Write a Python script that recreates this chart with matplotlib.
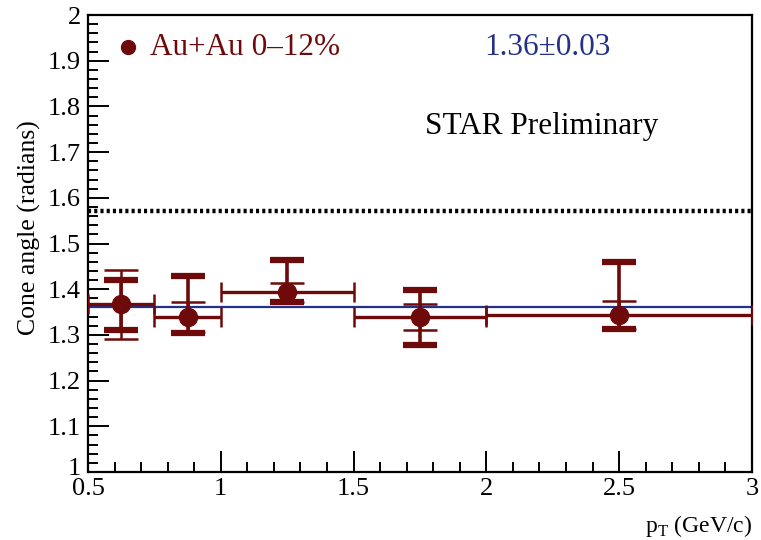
import matplotlib.pyplot as plt
import matplotlib.transforms as mtransforms
import numpy as np

# cone angle vs pT, Au+Au 0-12%
pt = np.array([0.625, 0.875, 1.25, 1.75, 2.5])
pt_halfwidth = np.array([0.125, 0.125, 0.25, 0.25, 0.5])
cone = np.array([1.367, 1.339, 1.393, 1.339, 1.344])
stat_err = np.array([0.076, 0.032, 0.02, 0.029, 0.031])
sys_lo = np.array([0.056, 0.035, 0.022, 0.06, 0.03])
sys_hi = np.array([0.054, 0.09, 0.072, 0.06, 0.116])
fit_value = 1.36
fit_error = 0.03
half_pi = np.pi / 2

red = '#6e0a0a'
blue = '#23318a'

plt.rcParams['font.family'] = ['Liberation Serif', 'DejaVu Serif']

fig = plt.figure(figsize=(7.61, 5.40), dpi=100)
ax = fig.add_axes([0.1156, 0.1259, 0.8724, 0.8463])

ax.axhline(half_pi, color='black', lw=3.2, ls=(0, (0.7, 0.7)), zorder=1)
ax.axhline(fit_value, color=blue, lw=1.6, zorder=2)

# bin widths
ax.errorbar(pt, cone, xerr=pt_halfwidth, fmt='none', ecolor=red,
            elinewidth=2.4, capsize=7, capthick=1.8, zorder=3)
# statistical
ax.errorbar(pt, cone, yerr=stat_err, fmt='none', ecolor=red,
            elinewidth=1.8, capsize=12, capthick=1.8, zorder=3)
# systematic
ax.errorbar(pt, cone, yerr=[sys_lo, sys_hi], fmt='none', ecolor=red,
            elinewidth=2.6, capsize=12, capthick=4.5, zorder=3)
ax.plot(pt, cone, 'o', color=red, ms=13, zorder=4)

ax.set_xlim(0.5, 3)
ax.set_ylim(1, 2)
ax.set_xticks(np.arange(0.5, 3.01, 0.5))
ax.set_xticklabels(['0.5', '1', '1.5', '2', '2.5', '3'])
ax.set_xticks(np.arange(0.5, 3.01, 0.1), minor=True)
ax.set_yticks(np.arange(1, 2.01, 0.1))
ax.set_yticklabels(['1', '1.1', '1.2', '1.3', '1.4', '1.5', '1.6', '1.7', '1.8', '1.9', '2'])
ax.set_yticks(np.arange(1, 2.001, 0.02), minor=True)
ax.tick_params(which='both', direction='in', top=False, right=False,
               labelsize=19, width=1.4)
ax.tick_params(which='major', length=15)
ax.tick_params(which='minor', length=7)
ax.tick_params(axis='x', pad=4)
ax.tick_params(axis='y', pad=5)
# nudge the bottom y label up a little so it clears the first x label
lbl = ax.get_yticklabels()[0]
lbl.set_transform(lbl.get_transform() +
                  mtransforms.ScaledTranslation(0, 4 / 72, fig.dpi_scale_trans))
for sp in ax.spines.values():
    sp.set_linewidth(1.6)

ax.set_ylabel('Cone angle (radians)', fontsize=18.5)
ax.yaxis.set_label_coords(-0.07, 0.534)
ax.set_xlabel(r'p$_\mathregular{T}$ (GeV/c)', fontsize=17, loc='right', labelpad=10)

ax.plot([0.0605], [0.93], 'o', color=red, ms=10, transform=ax.transAxes, clip_on=False)
ax.text(0.094, 0.93, 'Au+Au 0\u201312%', color=red, fontsize=22.5,
        transform=ax.transAxes, va='center')
ax.text(0.597, 0.93, f'{fit_value:.2f}\u00b1{fit_error:.2f}', color=blue, fontsize=22.5,
        transform=ax.transAxes, va='center')
ax.text(0.507, 0.755, 'STAR Preliminary', color='black', fontsize=22.5,
        transform=ax.transAxes, va='center')

fig.savefig('out.png', dpi=100)
